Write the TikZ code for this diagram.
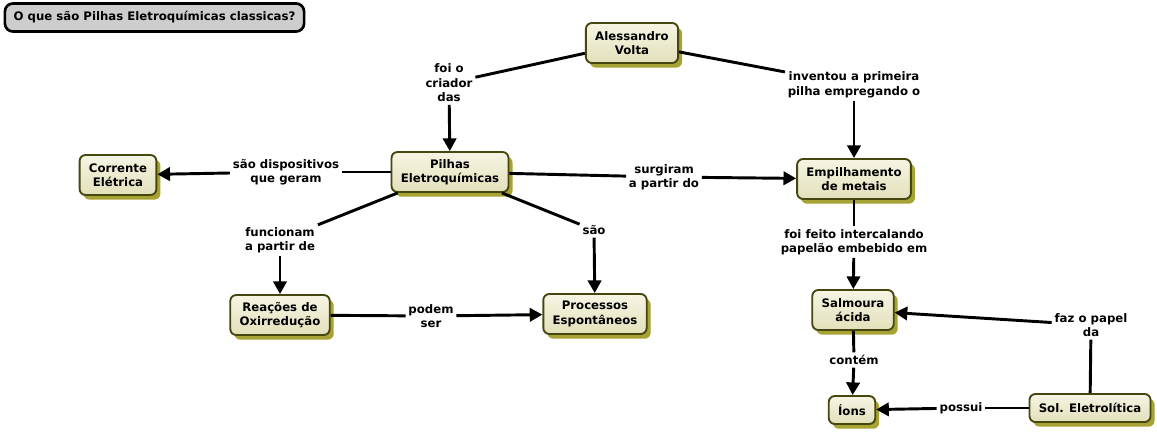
\documentclass[tikz,border=0pt]{standalone}
\usepackage{fontspec}
\setmainfont{DejaVu Sans}
\usetikzlibrary{arrows.meta,shadows}
\definecolor{conceptTop}{HTML}{F6F5E4}
\definecolor{conceptBottom}{HTML}{E2E0BA}
\definecolor{conceptBorder}{HTML}{46460F}
\definecolor{conceptShadow}{HTML}{A6A233}
\definecolor{questionFill}{HTML}{CDCDCD}
\begin{document}
\begin{tikzpicture}[x=0.75pt,y=-0.75pt,
    mapfont/.style={font=\bfseries\fontsize{8.8}{10.8}\selectfont},
    concept/.style={mapfont, draw=conceptBorder, line width=1.4pt, rounded corners=4.5pt,
        top color=conceptTop, bottom color=conceptBottom,
        drop shadow={shadow xshift=3pt, shadow yshift=-3.5pt, fill=conceptShadow, opacity=1},
        align=center, inner xsep=7pt, inner ysep=0pt, minimum height=30pt},
    linkphrase/.style={mapfont, align=center, inner sep=2pt},
    question/.style={mapfont, draw=black, line width=2pt, rounded corners=6pt, fill=questionFill,
        inner xsep=6.5pt, inner ysep=0pt, minimum height=21pt},
    link/.style={line width=2.2pt},
    arrowlink/.style={link, -{Triangle[length=9.5pt,width=10pt]}}]
                    \useasboundingbox (0,0) rectangle (1157,432);

                    % Marking the focus question
                    \node [question] (focus) at (154.5,17.5) {O que são Pilhas Eletroquímicas classicas?};%

                    % Marking concept Alessandro Volta
                    \node [concept] (volta) at (632,43) {Alessandro\\Volta};%

                    % Marking concept Pilhas Eletroquimicas
                    \node [concept] (pilhas) at (450,172) {Pilhas\\Eletroquímicas};%

                    % Marking concept Corrente Eletrica
                    \node [concept] (corrente) at (118,175) {Corrente\\Elétrica};%

                    % Marking concept Empilhamento de metais
                    \node [concept] (empilhamento) at (854,179) {Empilhamento\\de metais};%

                    % Marking concept Reacoes de Oxirreducao
                    \node [concept] (reacoes) at (280,315) {Reações de\\Oxirredução};%

                    % Marking concept Processos Espontaneos
                    \node [concept] (processos) at (595,314) {Processos\\Espontâneos};%

                    % Marking concept Salmoura acida
                    \node [concept] (salmoura) at (853,310) {Salmoura\\ácida};%

                    % Marking concept Ions
                    \node [concept, minimum height=21pt] (ions) at (852,410) {Íons};%

                    % Marking concept Sol. Eletrolitica
                    \node [concept, minimum height=21pt] (solucao) at (1090,408) {Sol. Eletrolítica};%

                    % Marking the linking phrases
                    \node [linkphrase] (criador) at (449,83) {foi o\\criador\\das};%
                    \node [linkphrase] (inventou) at (854,85) {inventou a primeira\\pilha empregando o};%
                    \node [linkphrase] (dispositivos) at (286,172) {são dispositivos\\que geram};%
                    \node [linkphrase] (surgiram) at (664,177) {surgiram\\a partir do};%
                    \node [linkphrase] (funcionam) at (280,240) {funcionam\\a partir de};%
                    \node [linkphrase] (sao) at (594,230) {são};%
                    \node [linkphrase] (podem) at (431,316) {podem\\ser};%
                    \node [linkphrase] (intercalando) at (854,242) {foi feito intercalando\\papelão embebido em};%
                    \node [linkphrase] (contem) at (854,360) {contém};%
                    \node [linkphrase] (papel) at (1091,325) {faz o papel\\da};%
                    \node [linkphrase] (possui) at (961,408) {possui};%

                    % Drawing links from Alessandro Volta
                    \draw [link] (volta) -- (criador);%
                    \draw [arrowlink] (criador) -- (pilhas);%
                    \draw [link] (volta) -- (inventou);%
                    \draw [arrowlink] (inventou) -- (empilhamento);%

                    % Drawing links from Pilhas Eletroquimicas
                    \draw [link] (pilhas) -- (dispositivos);%
                    \draw [arrowlink] (dispositivos) -- (corrente);%
                    \draw [link] (pilhas) -- (surgiram);%
                    \draw [arrowlink] (surgiram) -- (empilhamento);%
                    \draw [link] (pilhas) -- (funcionam);%
                    \draw [arrowlink] (funcionam) -- (reacoes);%
                    \draw [link] (pilhas) -- (sao);%
                    \draw [arrowlink] (sao) -- (processos);%

                    % Drawing link from Reacoes de Oxirreducao
                    \draw [link] (reacoes) -- (podem);%
                    \draw [arrowlink] (podem) -- (processos);%

                    % Drawing links on the right side
                    \draw [link] (empilhamento) -- (intercalando);%
                    \draw [arrowlink] (intercalando) -- (salmoura);%
                    \draw [link] (salmoura) -- (contem);%
                    \draw [arrowlink] (contem) -- (ions);%
                    \draw [link] (solucao) -- (papel);%
                    \draw [arrowlink] (papel) -- (salmoura);%
                    \draw [link] (solucao) -- (possui);%
                    \draw [arrowlink] (possui) -- (ions);%
\end{tikzpicture}
\end{document}
